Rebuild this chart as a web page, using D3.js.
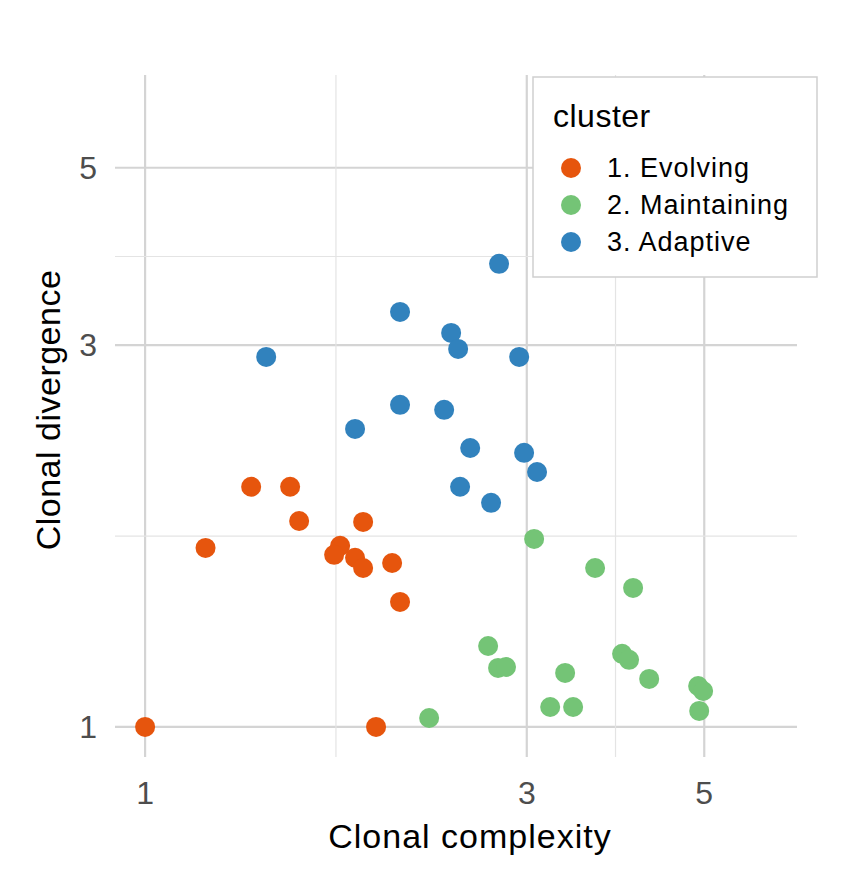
<!DOCTYPE html>
<html><head><meta charset="utf-8">
<script src="https://cdn.jsdelivr.net/npm/d3@7"></script>
<style>body{margin:0;background:#fff}text{font-family:"Liberation Sans",Arial,sans-serif}</style>
</head><body><div id="graph"></div>
<script>
// cluster data (complexity, divergence)
var clusters = ["1. Evolving", "2. Maintaining", "3. Adaptive"];
var colors = ["#e6550d", "#74c476", "#3182bd"];
var evolving = [[1,1],[1.19,1.674],[1.357,1.996],[1.518,1.996],[1.558,1.809],[1.753,1.684],[1.723,1.641],
  [1.83,1.627],[1.873,1.58],[1.873,1.804],[2.036,1.603],[2.083,1.433],[1.944,1]];
var maintaining = [[3.064,1.718],[3.652,1.58],[4.074,1.492],[2.684,1.262],[2.762,1.185],[2.826,1.188],
  [3.35,1.168],[3.947,1.234],[4.027,1.213],[4.267,1.148],[4.913,1.125],[4.984,1.109],[4.928,1.047],
  [3.209,1.059],[3.428,1.059],[2.265,1.026]];
var adaptive = [[1.417,2.901],[2.083,3.302],[2.413,3.108],[2.462,2.968],[2.77,3.792],[2.935,2.901],
  [2.083,2.527],[2.365,2.491],[1.83,2.358],[2.549,2.232],[2.977,2.201],[3.09,2.083],[2.476,1.996],[2.707,1.906]];
var majorTicks = [1, 3, 5];
var minorTicks = [Math.sqrt(3), Math.sqrt(15)];

var svg = d3.select("#graph").append("svg").attr("width", 841).attr("height", 875);
var x = d3.scaleLog().domain([0.917, 6.53]).range([115, 797]);
var y = d3.scaleLog().domain([0.917, 6.53]).range([757, 75]);

var grid = svg.append("g");
majorTicks.concat(minorTicks).forEach(function(t){
  var major = majorTicks.indexOf(t) >= 0;
  grid.append("line").attr("x1", x(t)).attr("x2", x(t)).attr("y1", 75).attr("y2", 757)
    .attr("stroke", major ? "#d4d4d4" : "#e4e4e4").attr("stroke-width", major ? 2.2 : 1.2);
  grid.append("line").attr("y1", y(t)).attr("y2", y(t)).attr("x1", 115).attr("x2", 797)
    .attr("stroke", major ? "#d4d4d4" : "#e4e4e4").attr("stroke-width", major ? 2.2 : 1.2);
});

svg.selectAll(".xt").data(majorTicks).enter().append("text")
  .attr("x", function(d){return x(d);}).attr("y", 804).attr("text-anchor", "middle")
  .attr("font-size", 32).attr("fill", "#4d4d4d").text(function(d){return d;});
svg.selectAll(".yt").data(majorTicks).enter().append("text")
  .attr("x", 97).attr("y", function(d){return y(d) + 11;}).attr("text-anchor", "end")
  .attr("font-size", 32).attr("fill", "#4d4d4d").text(function(d){return d;});

svg.append("text").attr("x", 470).attr("y", 848).attr("text-anchor", "middle")
  .attr("font-size", 34).attr("letter-spacing", 1).text("Clonal complexity");
svg.append("text").attr("transform", "translate(60,410) rotate(-90)").attr("text-anchor", "middle")
  .attr("font-size", 34).attr("letter-spacing", 0.5).text("Clonal divergence");

[evolving, maintaining, adaptive].forEach(function(set, i){
  svg.append("g").selectAll("circle").data(set).enter().append("circle")
    .attr("cx", function(d){return x(d[0]);}).attr("cy", function(d){return y(d[1]);})
    .attr("r", 10).attr("fill", colors[i]);
});

// legend
var lg = svg.append("g");
lg.append("rect").attr("x", 533).attr("y", 77).attr("width", 284).attr("height", 200)
  .attr("fill", "#fff").attr("stroke", "#cfcfcf").attr("stroke-width", 1.5);
lg.append("text").attr("x", 553).attr("y", 127).attr("font-size", 32).attr("letter-spacing", 0.5).text("cluster");
clusters.forEach(function(c, i){
  lg.append("circle").attr("cx", 571).attr("cy", 168 + i * 37).attr("r", 10).attr("fill", colors[i]);
  lg.append("text").attr("x", 607).attr("y", 177 + i * 37).attr("font-size", 27)
    .attr("letter-spacing", 1).text(c);
});
</script></body></html>
